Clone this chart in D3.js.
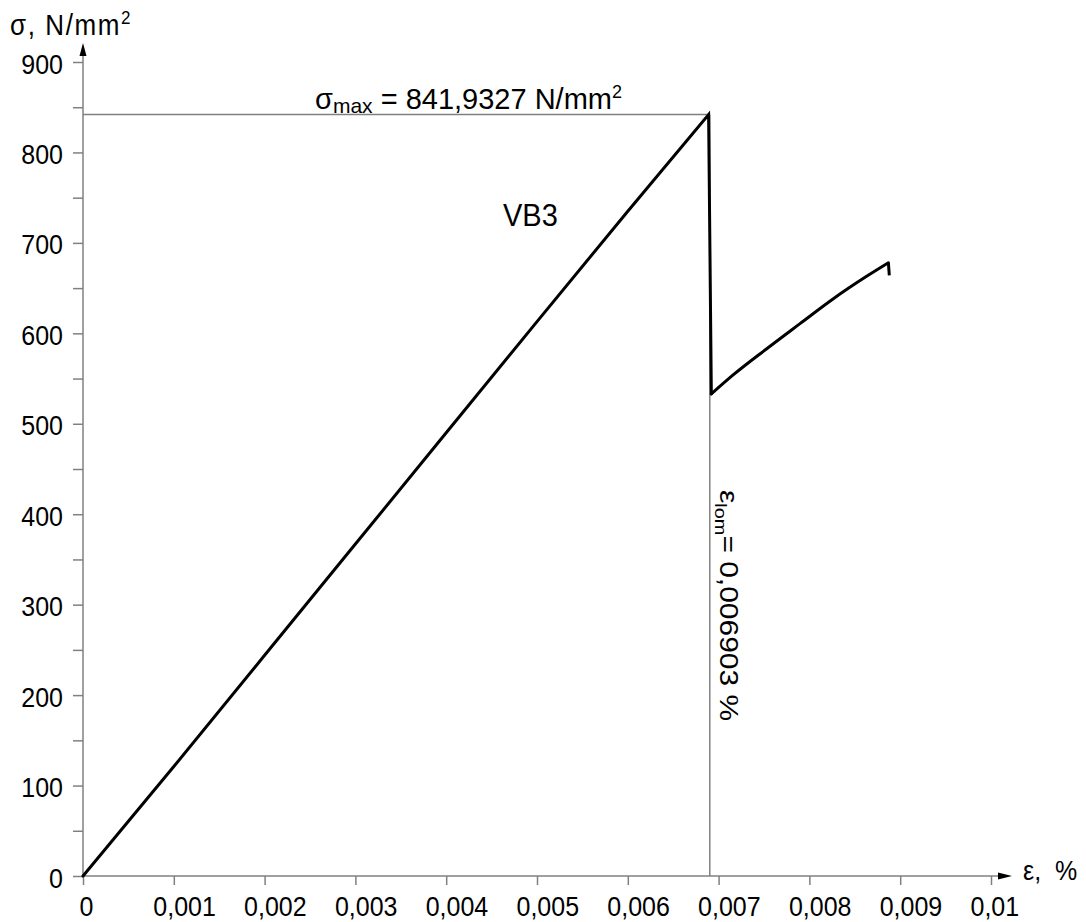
<!DOCTYPE html>
<html>
<head>
<meta charset="utf-8">
<script src="https://cdn.jsdelivr.net/npm/d3@7"></script>
<style>
  html, body { margin: 0; padding: 0; background: #fff; }
  svg { display: block; font-family: "Liberation Sans", Arial, sans-serif; }
</style>
</head>
<body>
<svg id="chart" width="1086" height="922"></svg>
<script>
// ---- data ----
const strain = [0, 0.001, 0.002, 0.003, 0.004, 0.005, 0.006, 0.00689, 0.00692, 0.00716, 0.00753, 0.0079, 0.00826, 0.00863, 0.00887, 0.00888];
const stress = [0, 121, 244, 367, 490, 613, 735, 841.93, 533, 554, 583, 611, 638, 663, 678, 664];
const xTicks = [0, 0.001, 0.002, 0.003, 0.004, 0.005, 0.006, 0.007, 0.008, 0.009, 0.01];
const xTickLabels = ["0", "0,001", "0,002", "0,003", "0,004", "0,005", "0,006", "0,007", "0,008", "0,009", "0,01"];
const yTicks = [0, 100, 200, 300, 400, 500, 600, 700, 800, 900];
const yMinorTicks = [50, 150, 250, 350, 450, 550, 650, 750, 850];
const sigmaMaxLabel = "841,9327";
const sigmaMax = 841.93;
const epsLom = 0.006903;
const epsLomLabel = "0,006903";
const seriesName = "VB3";

// ---- layout ----
const svg = d3.select("#chart");
const x = d3.scaleLinear().domain([0, 0.01]).range([83, 991]);
const y = d3.scaleLinear().domain([0, 900]).range([876, 62]);
const axisColor = "#808080";
const fontSize = 25;
const stretchY = 1.1;

function stretch(sel, sy) {
  sel.each(function () {
    const t = d3.select(this);
    const tx = +t.attr("x") || 0, ty = +t.attr("y") || 0;
    t.attr("x", 0).attr("y", 0).attr("dy", null)
      .attr("transform", `translate(${tx},${ty}) scale(1,${sy})`);
  });
}

// reference lines
svg.append("line")
  .attr("x1", x(0)).attr("x2", x(strain[7]))
  .attr("y1", y(sigmaMax)).attr("y2", y(sigmaMax))
  .attr("stroke", axisColor).attr("stroke-width", 1.5);
svg.append("line")
  .attr("x1", x(epsLom)).attr("x2", x(epsLom))
  .attr("y1", y(sigmaMax)).attr("y2", y(0))
  .attr("stroke", axisColor).attr("stroke-width", 1.5);

// y axis (major + minor ticks)
const yAxisG = svg.append("g").attr("transform", `translate(${x(0)},0)`)
  .call(d3.axisLeft(y).tickValues(yTicks).tickSize(10).tickPadding(10).tickFormat(d3.format("d")));
const yMinorG = svg.append("g").attr("transform", `translate(${x(0)},0)`)
  .call(d3.axisLeft(y).tickValues(yMinorTicks).tickSize(10).tickFormat(""));

// x axis
const xAxisG = svg.append("g").attr("transform", `translate(0,${y(0)})`)
  .call(d3.axisBottom(x).tickValues(xTicks).tickSize(9).tickFormat((d, i) => xTickLabels[i]));

[yAxisG, yMinorG, xAxisG].forEach(g => {
  g.selectAll(".domain").remove();
  g.selectAll(".tick line").attr("stroke", axisColor).attr("stroke-width", 1.5);
  g.selectAll("text").attr("font-family", "Liberation Sans, Arial, sans-serif")
    .attr("font-size", fontSize).attr("fill", "#000");
});
yAxisG.selectAll("text").attr("y", 11);
stretch(yAxisG.selectAll("text"), stretchY);
xAxisG.selectAll("text")
  .attr("y", 40)
  .attr("text-anchor", "start")
  .attr("x", (d, i) => i === 0 ? -4 : -21);
stretch(xAxisG.selectAll("text"), stretchY);

// axis lines with arrows
svg.append("line").attr("x1", x(0)).attr("x2", x(0)).attr("y1", y(0)).attr("y2", 50)
  .attr("stroke", axisColor).attr("stroke-width", 1.5);
svg.append("path").attr("d", `M${x(0)},43 L${x(0)-3.5},56 L${x(0)+3.5},56 Z`).attr("fill", "#000");
svg.append("line").attr("x1", x(0)).attr("x2", 1004).attr("y1", y(0)).attr("y2", y(0))
  .attr("stroke", axisColor).attr("stroke-width", 1.5);
svg.append("path").attr("d", `M1012,${y(0)} L998,${y(0)-3.5} L998,${y(0)+3.5} Z`).attr("fill", "#000");

// axis titles
const yTitle = svg.append("text").attr("transform", `translate(10,35) scale(1,${stretchY})`)
  .attr("font-size", 26).attr("letter-spacing", 1.6).attr("fill", "#000");
yTitle.append("tspan").text("σ, N/mm");
yTitle.append("tspan").attr("font-size", 17).attr("dy", -10).text("2");

svg.append("text").attr("transform", `translate(1023,880) scale(1,${stretchY})`)
  .attr("font-size", fontSize).attr("fill", "#000")
  .attr("xml:space", "preserve").text("ε,  %");

// curve: rising linear part + drop, smooth recovery branch, final hook
const pts = strain.map((s, i) => [s, stress[i]]);
const lineLin = d3.line().x(d => x(d[0])).y(d => y(d[1]));
const lineSmooth = d3.line().x(d => x(d[0])).y(d => y(d[1])).curve(d3.curveMonotoneX);
const curveStyle = p => p.attr("fill", "none").attr("stroke", "#000").attr("stroke-width", 3)
  .attr("stroke-linejoin", "miter").attr("stroke-linecap", "round");
svg.append("path").datum(pts.slice(0, 9)).attr("d", lineLin).call(curveStyle);
svg.append("path").datum(pts.slice(8, 15)).attr("d", lineSmooth).call(curveStyle);
svg.append("path").datum(pts.slice(14)).attr("d", lineLin).call(curveStyle).attr("stroke-linecap", "butt");

// series label
svg.append("text").attr("transform", `translate(503,226) scale(1,1.05)`)
  .attr("font-size", 29).attr("fill", "#000").text(seriesName);

// sigma max annotation
const sm = svg.append("text").attr("x", 315).attr("y", 109).attr("font-size", 29).attr("fill", "#000");
sm.append("tspan").text("σ");
sm.append("tspan").attr("font-size", 21).attr("dy", 4).text("max");
sm.append("tspan").attr("dy", -4).text(" = " + sigmaMaxLabel + " N/mm");
sm.append("tspan").attr("font-size", 18).attr("dy", -11).text("2");

// epsilon lom annotation (rotated, reading downward)
const el = svg.append("text").attr("transform", `translate(720,490) rotate(90) scale(1.17,1)`)
  .attr("font-size", 25.6).attr("fill", "#000");
el.append("tspan").text("ε");
el.append("tspan").attr("font-size", 17).attr("dy", 5).text("lom");
el.append("tspan").attr("dy", -5).text("= " + epsLomLabel + " %");
</script>
</body>
</html>
